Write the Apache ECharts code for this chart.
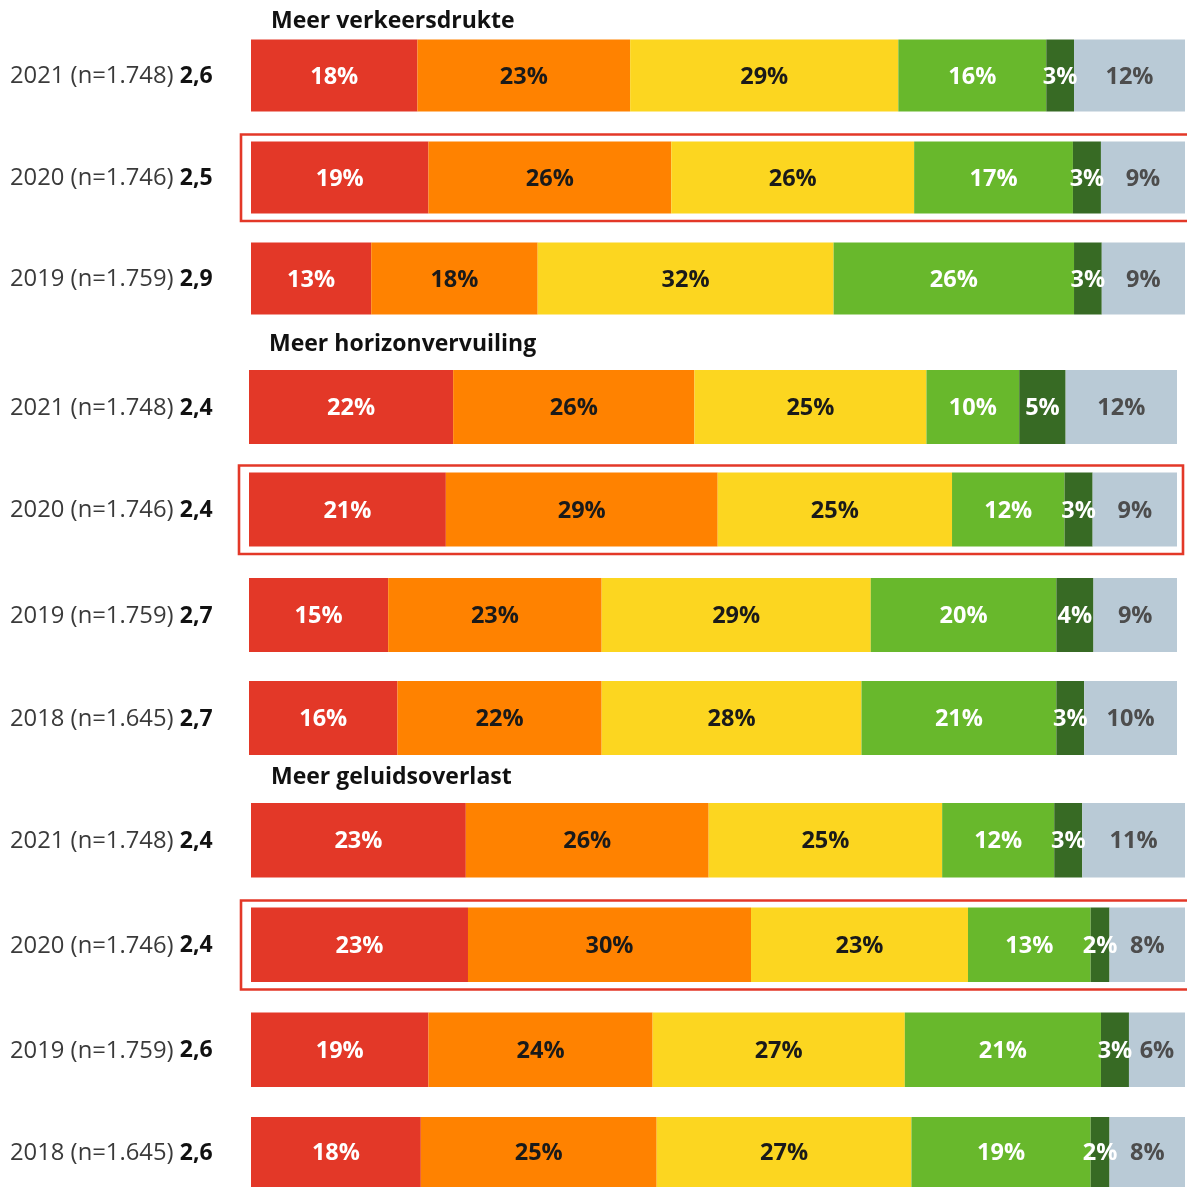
<!DOCTYPE html>
<html>
<head>
<meta charset="utf-8">
<script src="https://cdn.jsdelivr.net/npm/echarts@6/dist/echarts.min.js"></script>
<style>
  html, body { margin: 0; padding: 0; background: #ffffff; }
  #chart { width: 1187px; height: 1187px; }
</style>
</head>
<body>
<div id="chart"></div>
<script>
// Survey answers per year, shares in percent (left = most negative, right = don't know)
const blockTitles = ['Meer verkeersdrukte', 'Meer horizonvervuiling', 'Meer geluidsoverlast'];

const years1 = ['2021 (n=1.748)', '2020 (n=1.746)', '2019 (n=1.759)'];
const scores1 = ['2,6', '2,5', '2,9'];
const verkeersdrukte = [
  [18, 23, 29, 16, 3, 12],
  [19, 26, 26, 17, 3, 9],
  [13, 18, 32, 26, 3, 9]
];

const years2 = ['2021 (n=1.748)', '2020 (n=1.746)', '2019 (n=1.759)', '2018 (n=1.645)'];
const scores2 = ['2,4', '2,4', '2,7', '2,7'];
const horizonvervuiling = [
  [22, 26, 25, 10, 5, 12],
  [21, 29, 25, 12, 3, 9],
  [15, 23, 29, 20, 4, 9],
  [16, 22, 28, 21, 3, 10]
];

const years3 = ['2021 (n=1.748)', '2020 (n=1.746)', '2019 (n=1.759)', '2018 (n=1.645)'];
const scores3 = ['2,4', '2,4', '2,6', '2,6'];
const geluidsoverlast = [
  [23, 26, 25, 12, 3, 11],
  [23, 30, 23, 13, 2, 8],
  [19, 24, 27, 21, 3, 6],
  [18, 25, 27, 19, 2, 8]
];

const segmentColors = ['#E33828', '#FF8200', '#FCD620', '#68B82C', '#376A24', '#B9CAD6'];
const labelColors = ['#ffffff', '#1a1a1a', '#1a1a1a', '#ffffff', '#ffffff', '#4d4d4d'];

const FONT = '"Open Sans", "Noto Sans", sans-serif';

// Layout of the three blocks (pixels)
const blocks = [
  { title: blockTitles[0], years: years1, scores: scores1, rows: verkeersdrukte,
    left: 251, width: 934, tops: [39.5, 141.5, 242.5], barH: 72,
    titleX: 271, titleY: 21, highlight: 1, openRight: true },
  { title: blockTitles[1], years: years2, scores: scores2, rows: horizonvervuiling,
    left: 249, width: 928, tops: [370, 472.5, 578, 681], barH: 74,
    titleX: 269, titleY: 344, highlight: 1, openRight: false },
  { title: blockTitles[2], years: years3, scores: scores3, rows: geluidsoverlast,
    left: 251, width: 934, tops: [803, 907.5, 1012.5, 1117], barH: 74.5,
    titleX: 271, titleY: 777, highlight: 1, openRight: true }
];

const option = {
  animation: false,
  backgroundColor: '#ffffff',
  grid: [], xAxis: [], yAxis: [], series: [], graphic: []
};

blocks.forEach(function (b) {
  option.graphic.push({
    type: 'text', x: b.titleX, y: b.titleY, silent: true,
    style: {
      text: b.title, fill: '#111111', fontFamily: FONT, fontWeight: 'bold',
      fontSize: 23, align: 'left', verticalAlign: 'middle'
    }
  });

  b.rows.forEach(function (vals, r) {
    const gi = option.grid.length;
    const top = b.tops[r];
    const total = vals.reduce(function (s, v) { return s + v; }, 0);
    const score = b.scores[r];

    option.grid.push({ left: b.left, top: top, width: b.width, height: b.barH });
    option.xAxis.push({ type: 'value', gridIndex: gi, min: 0, max: total, show: false });
    option.yAxis.push({
      type: 'category', gridIndex: gi, data: [b.years[r]],
      axisLine: { show: false }, axisTick: { show: false }, splitLine: { show: false },
      axisLabel: {
        align: 'left', margin: b.left - 10,
        formatter: function (v) { return '{a|' + v + '} {b|' + score + '}'; },
        rich: {
          a: { fontFamily: FONT, fontSize: 23.8, color: '#3a3a3a', padding: [2, 0, 0, 0] },
          b: { fontFamily: FONT, fontSize: 23, fontWeight: 'bold', color: '#111111', padding: [2, 0, 0, 3] }
        }
      }
    });

    vals.forEach(function (v, k) {
      option.series.push({
        type: 'bar', xAxisIndex: gi, yAxisIndex: gi, stack: 'row' + gi,
        data: [v], barWidth: '100%', silent: true,
        itemStyle: { color: segmentColors[k] },
        label: {
          show: true, position: 'inside', formatter: '{c}%', offset: [0, 1.5],
          color: labelColors[k], fontFamily: FONT, fontWeight: 'bold', fontSize: 23.5
        }
      });
    });

    if (r === b.highlight) {
      const x0 = b.left - 10;
      const y0 = top - 7;
      const x1 = b.openRight ? 1200 : b.left + b.width + 6;
      const y1 = top + b.barH + 7.5;
      option.graphic.push({
        type: 'rect', silent: true,
        shape: { x: x0, y: y0, width: x1 - x0, height: y1 - y0 },
        style: { fill: 'none', stroke: '#E33828', lineWidth: 2.6 }
      });
    }
  });
});

const chart = echarts.init(document.getElementById('chart'), null, { renderer: 'canvas' });
chart.setOption(option);
</script>
</body>
</html>
